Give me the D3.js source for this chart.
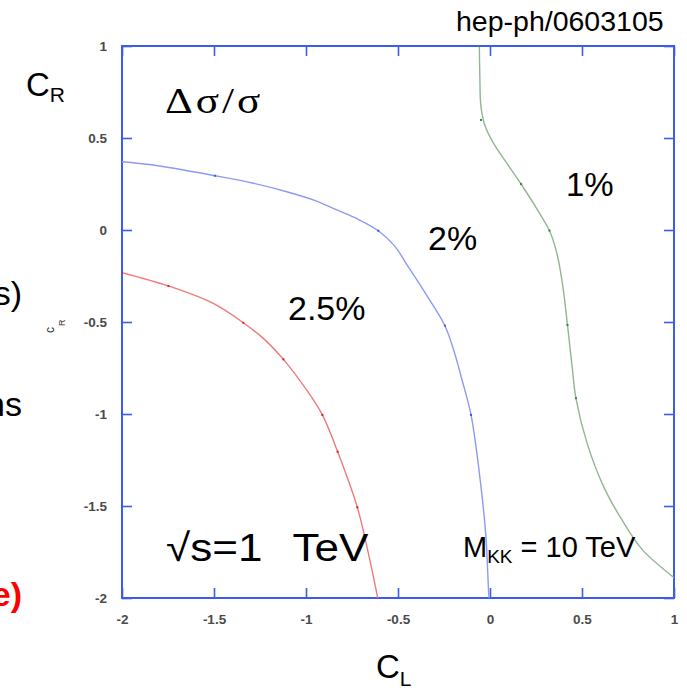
<!DOCTYPE html>
<html>
<head>
<meta charset="utf-8">
<script src="https://cdn.jsdelivr.net/npm/d3@7"></script>
<style>
  body { margin: 0; background: #fff; }
  svg { display: block; }
</style>
</head>
<body>
<svg id="chart" width="687" height="690"></svg>
<script>
// Axis ticks
const xTicks = [-2, -1.5, -1, -0.5, 0, 0.5, 1];
const yTicks = [1, 0.5, 0, -0.5, -1, -1.5, -2];

// Contours of constant Δσ/σ in the (C_L, C_R) plane: [C_L, C_R]
const contour1pct = [
  [-0.058, 1.0], [-0.055, 0.82], [-0.05, 0.68], [-0.03, 0.575], [0.018, 0.473],
  [0.09, 0.365], [0.169, 0.25], [0.273, 0.085], [0.323, -0.003], [0.364, -0.129],
  [0.395, -0.3], [0.421, -0.516], [0.445, -0.73], [0.467, -0.914], [0.527, -1.157],
  [0.62, -1.4], [0.72, -1.58], [0.83, -1.74], [1.0, -1.89]
];
const contour2pct = [
  [-2.0, 0.371], [-1.83, 0.353], [-1.495, 0.295], [-1.286, 0.254], [-1.105, 0.208],
  [-0.95, 0.16], [-0.833, 0.109], [-0.72, 0.06], [-0.607, -0.004], [-0.52, -0.085],
  [-0.444, -0.2], [-0.344, -0.355], [-0.245, -0.52], [-0.195, -0.66], [-0.152, -0.815],
  [-0.103, -1.005], [-0.049, -1.395], [-0.022, -1.668], [-0.008, -1.957], [-0.005, -2.0]
];
const contour25pct = [
  [-2.0, -0.232], [-1.748, -0.304], [-1.504, -0.399], [-1.341, -0.504], [-1.232, -0.589],
  [-1.123, -0.703], [-0.996, -0.87], [-0.911, -1.005], [-0.828, -1.205], [-0.721, -1.507],
  [-0.661, -1.757], [-0.61, -2.0]
];

// Sample nodes marked along each contour
const nodes1pct = [[-0.058, 1.0], [-0.049, 0.598], [0.169, 0.25], [0.323, -0.003], [0.421, -0.516], [0.467, -0.914]];
const nodes2pct = [[-1.495, 0.295], [-0.607, -0.004], [-0.245, -0.52], [-0.103, -1.005]];
const nodes25pct = [[-2.0, -0.232], [-1.748, -0.304], [-1.341, -0.504], [-1.123, -0.703], [-0.911, -1.005], [-0.828, -1.205], [-0.721, -1.507]];

const svg = d3.select("#chart");
const plotLeft = 122, plotTop = 46, plotW = 552, plotH = 552;
const sans = "'Liberation Sans', Arial, sans-serif";
const serif = "'Liberation Serif', 'Times New Roman', serif";
const axisBlue = "#3b5cec";

const x = d3.scaleLinear().domain([-2, 1]).range([plotLeft, plotLeft + plotW]);
const y = d3.scaleLinear().domain([-2, 1]).range([plotTop + plotH, plotTop]);

// Clip to plot area
svg.append("defs").append("clipPath").attr("id", "plotClip")
  .append("rect").attr("x", plotLeft).attr("y", plotTop).attr("width", plotW).attr("height", plotH);

// Axes with inward ticks
function styleAxis(g) {
  g.select(".domain").remove();
  g.selectAll(".tick line").attr("stroke", axisBlue).attr("stroke-width", 1.6);
  g.selectAll(".tick text").attr("fill", "#4a4a4a").attr("font-family", sans)
    .attr("font-size", 13.5).attr("font-weight", "bold");
}
const fmt = d => String(d);

svg.append("g").attr("transform", `translate(0,${plotTop + plotH})`)
  .call(d3.axisBottom(x).tickValues(xTicks).tickFormat(fmt).tickSizeInner(-10).tickSizeOuter(0).tickPadding(16))
  .call(styleAxis);
svg.append("g").attr("transform", `translate(0,${plotTop})`)
  .call(d3.axisTop(x).tickValues(xTicks).tickFormat("").tickSizeInner(-10).tickSizeOuter(0))
  .call(styleAxis);
svg.append("g").attr("transform", `translate(${plotLeft},0)`)
  .call(d3.axisLeft(y).tickValues(yTicks).tickFormat(fmt).tickSizeInner(-10).tickSizeOuter(0).tickPadding(15))
  .call(styleAxis);
svg.append("g").attr("transform", `translate(${plotLeft + plotW},0)`)
  .call(d3.axisRight(y).tickValues(yTicks).tickFormat("").tickSizeInner(-10).tickSizeOuter(0))
  .call(styleAxis);

// Frame
svg.append("rect").attr("x", plotLeft).attr("y", plotTop).attr("width", plotW).attr("height", plotH)
  .attr("fill", "none").attr("stroke", axisBlue).attr("stroke-width", 2);

// Contour lines
const line = d3.line().x(d => x(d[0])).y(d => y(d[1])).curve(d3.curveCatmullRom.alpha(0.5));
const plot = svg.append("g").attr("clip-path", "url(#plotClip)");
const series = [
  { data: contour2pct, nodes: nodes2pct, stroke: "#8d9af2", node: "#3d55e0" },
  { data: contour25pct, nodes: nodes25pct, stroke: "#f07a7a", node: "#d82020" },
  { data: contour1pct, nodes: nodes1pct, stroke: "#93b593", node: "#2e8b3a" }
];
series.forEach(s => {
  plot.append("path").attr("d", line(s.data)).attr("fill", "none")
    .attr("stroke", s.stroke).attr("stroke-width", 1.4);
  plot.selectAll(null).data(s.nodes).enter().append("rect")
    .attr("x", d => x(d[0]) - 1).attr("y", d => y(d[1]) - 1)
    .attr("width", 2).attr("height", 2).attr("fill", s.node);
});

// Text helpers
function txt(xp, yp, str, size, opts = {}) {
  return svg.append("text").attr("x", xp).attr("y", yp)
    .attr("font-family", opts.family || sans).attr("font-size", size)
    .attr("fill", opts.fill || "#000").attr("font-weight", opts.weight || "normal")
    .attr("text-anchor", opts.anchor || "start").text(str);
}
function subText(xp, yp, main, sub, size, subSize, dy) {
  const t = svg.append("text").attr("x", xp).attr("y", yp)
    .attr("font-family", sans).attr("font-size", size).attr("fill", "#000");
  t.append("tspan").text(main);
  t.append("tspan").attr("font-size", subSize).attr("dy", dy).text(sub);
  return t;
}

// Header reference
txt(456, 31, "hep-ph/0603105", 28.5);

// Axis titles
subText(26, 96, "C", "R", 33, 21, 6);
subText(376, 678, "C", "L", 33, 21, 8);
svg.append("text").attr("transform", "translate(54,333) rotate(-90)")
  .attr("font-family", sans).attr("font-size", 12).attr("fill", "#333")
  .call(t => { t.append("tspan").text("c"); t.append("tspan").attr("font-size", 9).attr("dy", 11).attr("dx", 1).text("R"); });

// Ratio label, glyphs widened like a symbol face
svg.append("text").attr("transform", "translate(165,113) scale(1.2,1)")
  .attr("font-family", serif).attr("font-size", 36).attr("letter-spacing", 2.5)
  .attr("fill", "#000").text("Δσ/σ");

// Energy label
svg.append("text").attr("transform", "translate(166,561) scale(1.13,1)")
  .attr("font-family", sans).attr("font-size", 39).attr("fill", "#000")
  .call(t => {
    t.append("tspan").attr("x", 0).text("√s=1");
    t.append("tspan").attr("x", 112).text("TeV");
  });

txt(288, 320, "2.5%", 34);
txt(428, 250, "2%", 34);
txt(566, 196, "1%", 33);
subText(463, 557, "M", "KK", 29, 19, 6)
  .call(t => t.append("tspan").attr("dy", -6).text(" = 10 TeV"));

// Fragments of neighbouring slide text along the left edge
txt(22, 305, "s)", 34, { anchor: "end" });
txt(22, 416, "ns", 34, { anchor: "end" });
txt(22, 606, "e)", 34, { anchor: "end", fill: "#ff0000", weight: "bold" });
</script>
</body>
</html>
